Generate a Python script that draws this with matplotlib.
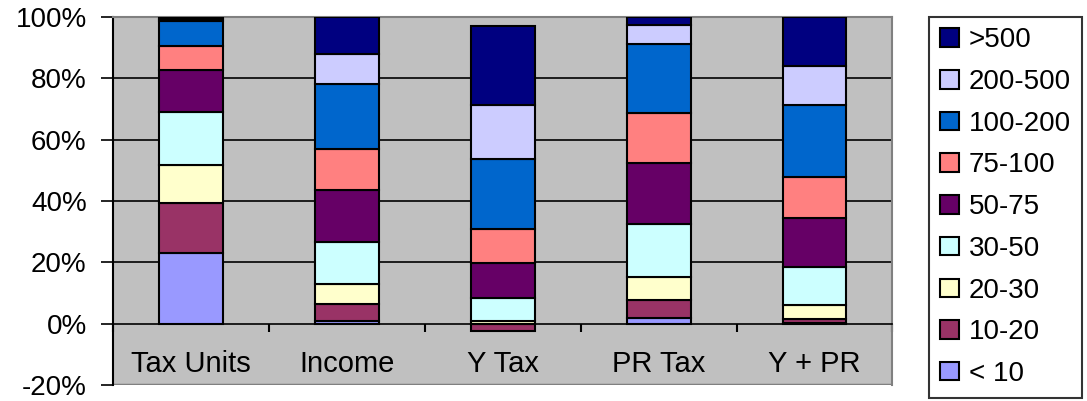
import numpy as np
import matplotlib
matplotlib.use("Agg")
import matplotlib.pyplot as plt
from matplotlib.ticker import FuncFormatter, FixedLocator

plt.rcParams["font.family"] = ["Liberation Sans", "DejaVu Sans"]

categories = ["Tax Units", "Income", "Y Tax", "PR Tax", "Y + PR"]
brackets = ["< 10", "10-20", "20-30", "30-50", "50-75", "75-100", "100-200", "200-500", ">500"]

# share (%) of each bracket, one list per bracket, in category order
lt10 = [23.0, 0.8, -0.2, 1.7, 0.1]
b10_20 = [16.2, 5.5, -2.2, 5.9, 1.5]
b20_30 = [12.6, 6.5, 1.0, 7.6, 4.6]
b30_50 = [17.3, 13.9, 7.5, 17.4, 12.2]
b50_75 = [13.6, 16.8, 11.4, 19.8, 16.1]
b75_100 = [7.8, 13.4, 10.9, 16.1, 13.4]
b100_200 = [8.0, 21.2, 23.0, 22.5, 23.3]
b200_500 = [0.8, 9.7, 17.4, 6.4, 12.9]
gt500 = [0.7, 12.2, 25.9, 2.6, 15.9]

colors = ["#9999FF", "#993366", "#FFFFCC", "#CCFFFF", "#660066",
          "#FF8080", "#0066CC", "#CCCCFF", "#000080"]

series = [lt10, b10_20, b20_30, b30_50, b50_75, b75_100, b100_200, b200_500, gt500]

fig = plt.figure(figsize=(10.87, 4.01), dpi=100)
ax = fig.add_axes([0.104, 0.04, 0.717, 0.918])
ax.set_facecolor("#C0C0C0")

x = np.arange(len(categories))
pos_bottom = np.zeros(len(categories))
neg_bottom = np.zeros(len(categories))
handles = []
for vals, col, name in zip(series, colors, brackets):
    vals = np.array(vals)
    bottom = np.where(vals >= 0, pos_bottom, neg_bottom)
    h = ax.bar(x, vals, 0.41, bottom=bottom, color=col, edgecolor="black",
               linewidth=1.5, label=name, zorder=3)
    handles.append(h)
    pos_bottom += np.where(vals >= 0, vals, 0)
    neg_bottom += np.where(vals < 0, vals, 0)

ax.set_xlim(-0.5, len(categories) - 0.5)
ax.set_ylim(-20, 100)

# grid
for g in [20, 40, 60, 80]:
    ax.axhline(g, color="black", lw=1.2, zorder=1)

ax.set_yticks(np.arange(-20, 101, 20))
ax.yaxis.set_major_formatter(FuncFormatter(lambda v, p: f"{v:.0f}%"))
ax.tick_params(axis="y", direction="out", length=9, width=1.2, labelsize=20, pad=10)

# category axis sits at 0%
ax.spines["bottom"].set_position(("data", 0))
ax.spines["bottom"].set_linewidth(1.2)
ax.xaxis.set_major_locator(FixedLocator(np.arange(-0.5, len(categories), 1.0)))
ax.xaxis.set_major_formatter(FuncFormatter(lambda v, p: ""))
ax.xaxis.set_minor_locator(FixedLocator(x))
ax.set_xticklabels(categories, minor=True)
ax.tick_params(axis="x", which="major", direction="out", length=6, width=1.5)
ax.tick_params(axis="x", which="minor", length=0, labelsize=21, pad=19)

ax.spines["left"].set_linewidth(1.5)
for s in ["top", "right"]:
    ax.spines[s].set_color("#808080")
    ax.spines[s].set_linewidth(1.5)
ax.axhline(-20, color="#808080", lw=2.5, zorder=2)

leg = fig.legend(handles[::-1], brackets[::-1], loc="upper left",
                 bbox_to_anchor=(0.855, 0.958), fontsize=20, frameon=True,
                 fancybox=False, edgecolor="black", handlelength=0.7,
                 handleheight=0.65, handletextpad=0.35, labelspacing=0.565,
                 borderpad=0.38, borderaxespad=0)
leg.get_frame().set_linewidth(1.5)

fig.savefig("out.png", dpi=100)
